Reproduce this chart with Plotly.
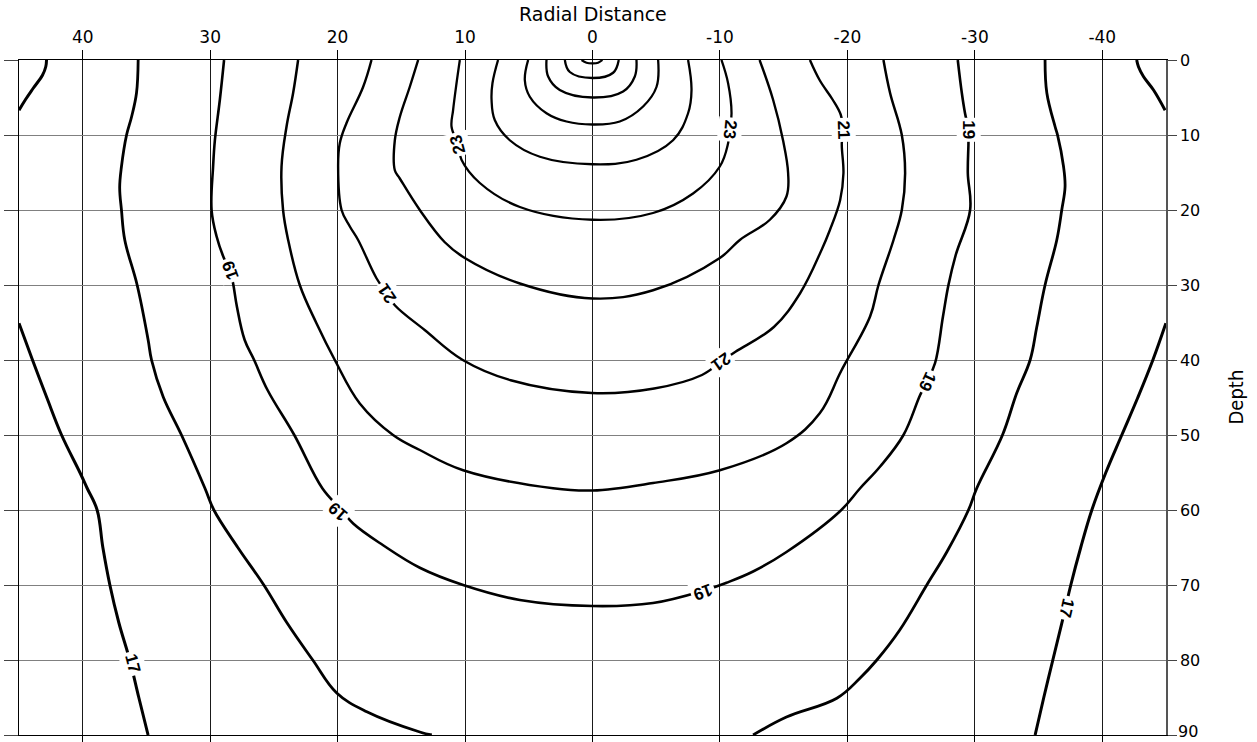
import plotly.graph_objects as go

# ---------------- data (radial distance x, depth d) ----------------
x_ticks = [40, 30, 20, 10, 0, -10, -20, -30, -40]
x_ticktext = ["40", "30", "20", "10", "0", "-10", "-20", "-30", "-40"]
d_ticks = [0, 10, 20, 30, 40, 50, 60, 70, 80, 90]
d_ticktext = ["0", "10", "20", "30", "40", "50", "60", "70", "80", "90"]

c17_tl_x = [42.84, 42.9, 43.15, 43.9, 44.5, 45.0]
c17_tl_d = [0, 0.9, 2.0, 3.8, 5.3, 6.7]
c17_tr_x = [-42.7, -42.84, -43.23, -44.02, -44.93]
c17_tr_d = [0, 0.9, 2.2, 4.0, 6.7]
c17_l_x = [45.0, 43.94, 42.82, 41.66, 40.22, 39.65, 38.87, 38.42, 37.87, 37.17, 36.31, 35.6, 34.87]
c17_l_d = [35.1, 40, 45, 50, 55, 57.1, 60, 65, 70, 75, 80, 85, 90]
c17_r_x = [-44.99, -43.97, -42.79, -41.53, -40.28, -39.18, -38.31, -37.53, -36.98, -36.12, -35.41, -34.73]
c17_r_d = [35.1, 40, 45, 50, 55, 60, 65, 70, 74, 80, 85, 90]

c18_l_x = [35.65, 35.78, 36.17, 36.56, 36.96, 37.1, 36.96, 36.7, 35.73, 34.87, 34.6, 33.69,
           32.25, 30.41, 29.71, 27.83, 25.79, 23.99, 21.95, 20.07, 17.71, 13.55, 12.61]
c18_l_d = [0, 4.4, 7.6, 10, 14.2, 17, 20, 24, 30, 37.3, 40, 44.9,
           50, 57.1, 60, 65, 70, 75, 80, 84.4, 86.9, 89.6, 90]
c18_r_x = [-35.51, -35.65, -36.3, -36.49, -36.96, -37.08, -36.82, -36.43, -35.51, -34.86, -34.34,
           -33.29, -32.17, -30.15, -29.5, -27.8, -26.23, -24.11, -22.31, -21.0, -19.17, -15.22, -12.6]
c18_r_d = [0, 4.4, 8.9, 10, 14.2, 16.9, 20, 24, 30, 35.6, 40,
           44.4, 50, 57.1, 60, 65.6, 70, 76, 80, 82.4, 85.1, 87.6, 90]

c19_x = [28.91, 29.24, 29.63, 29.77, 29.89, 29.5, 28.9, 28.45, 28.2, 27.9, 27.3, 26.55, 25.5,
         23.4, 21.2, 19.69, 18.78, 16.43, 13.55, 10.15, 5.7, 0, -4.75, -8.81, -10.51, -12.6,
         -15.22, -19.4, -21.0, -22.57, -24.4, -25.7, -26.23, -26.88, -27.5, -27.93, -28.5,
         -29.63, -29.45, -29.5, -29.5, -29.23, -28.98, -28.66]
c19_d = [0, 5.3, 10.7, 14.2, 20, 23.5, 26.5, 28, 29.8, 32.9, 37.3, 40, 44,
         50, 57.1, 60, 61.8, 64.7, 67.7, 70, 72, 72.8, 72.4, 70.7, 69.7, 68.2,
         65.6, 60.2, 57.1, 54.2, 50, 44.7, 42.9, 40.4, 34.2, 30, 26,
         20, 15.1, 11.1, 9.3, 7.1, 4.4, 0]

c20_x = [23.1, 23.49, 24.01, 24.4, 24.28, 23.88, 22.97, 21.66, 20.22, 18.26, 15.65, 13.55,
         10.15, 3.09, 0, -4.75, -9.99, -15.22, -17.83, -19.5, -21.78, -22.44, -23.62,
         -24.27, -24.53, -24.27, -23.35, -22.83]
c20_d = [0, 4.4, 8.9, 14.2, 20, 24, 30, 35.1, 40, 45.8, 50, 52,
         54.7, 57.1, 57.4, 56.4, 54.7, 51.1, 47.1, 41.5, 34.2, 30, 24,
         20, 15.1, 10, 4.4, 0]

c21_x = [17.34, 18.0, 19.3, 19.83, 19.96, 19.69, 19.04, 18.39, 16.95, 16.14, 15.51, 13.17, 10.18,
         6.42, 0.04, -4.84, -8.59, -10.1, -11.22, -14.23, -16.29, -17.98, -18.62, -19.43, -19.69,
         -19.56, -19.68, -19.48, -18.85, -17.83, -17.06]
c21_d = [0, 3.6, 8.4, 11.1, 14.2, 20, 22.2, 24, 29.1, 31.1, 32.7, 36, 40,
         42.7, 44.4, 43.8, 42, 40.2, 38.9, 35.6, 31.1, 25.3, 22.7, 18.7, 15.1,
         11.1, 9.3, 7.3, 5.3, 2.7, 0]

c22_x = [13.68, 14.34, 15.12, 15.51, 15.51, 15.12, 13.55, 11.59, 10.02, 5.7, 0, -4.75, -9.99,
         -11.56, -13.92, -15.22, -15.35, -14.95, -14.17, -13.11]
c22_d = [0, 3.6, 7.6, 10.7, 14.7, 15.8, 20, 24.3, 26.4, 29.8, 31.8, 30.7, 26.4,
         24, 21.3, 18.2, 15.1, 10.7, 5.3, 0]

c23_x = [10.41, 10.67, 10.94, 11.06, 10.55, 10.28, 8.84, 5.7, 0, -4.75, -7.89, -9.99, -10.64,
         -10.77, -10.91, -10.64, -10.12]
c23_d = [0, 3.1, 6.7, 8.9, 11.3, 13.3, 16.4, 19.6, 21.3, 20.4, 17.8, 14.2, 11.1,
         9.3, 7.1, 3.1, 0]

c24_x = [7.41, 7.85, 7.92, 7.67, 6.49, 4.13, 0, -3.45, -6.32, -7.5, -7.77, -7.5]
c24_d = [0, 3.1, 5.3, 8.0, 10.7, 12.9, 13.9, 13.3, 10.7, 7.1, 4.0, 0]
c25_x = [5.05, 5.31, 4.92, 3.61, 2.04, 0, -2.14, -3.97, -5.02, -5.15]
c25_d = [0, 2.7, 4.9, 7.1, 8.2, 8.6, 8.2, 6.2, 3.6, 0]
c26_x = [3.61, 3.48, 2.57, 0, -2.4, -3.32, -3.45]
c26_d = [0, 2.2, 4.0, 5.0, 4.2, 2.2, 0]
c27_x = [2.17, 1.78, 0, -1.62, -2.06]
c27_d = [0, 1.6, 2.4, 1.7, 0]
c28_x = [0.86, 0.47, 0, -0.44, -0.78]
c28_d = [0, 0.36, 0.44, 0.36, 0]

label_text = ["23", "23", "21", "19", "19", "21", "21", "19", "19", "19", "17", "17"]
label_x = [10.55, -10.77, -19.68, -29.5, 28.45, 16.14, -10.1, -26.23, 19.95, -8.64, 36.05, -37.21]
label_d = [11.3, 9.3, 9.3, 9.3, 28.0, 31.1, 40.2, 42.9, 60.2, 70.9, 80.4, 73.1]
label_angle = [-105, 96, 88, 90, -110, -124, 145, 115, -139, 160, 75, 103]

# ---------------- figure ----------------
lines = [
    (c17_tl_x, c17_tl_d, 3.0), (c17_tr_x, c17_tr_d, 3.0),
    (c17_l_x, c17_l_d, 3.0), (c17_r_x, c17_r_d, 3.0),
    (c18_l_x, c18_l_d, 2.8), (c18_r_x, c18_r_d, 2.8),
    (c19_x, c19_d, 2.6), (c20_x, c20_d, 2.5), (c21_x, c21_d, 2.4),
    (c22_x, c22_d, 2.4), (c23_x, c23_d, 2.3), (c24_x, c24_d, 2.3),
    (c25_x, c25_d, 2.3), (c26_x, c26_d, 2.3), (c27_x, c27_d, 2.3),
    (c28_x, c28_d, 2.2),
]

fig = go.Figure()
for xs, ds, w in lines:
    fig.add_trace(go.Scatter(x=xs, y=ds, mode="lines",
                             line=dict(color="black", width=w, shape="spline", smoothing=1.1),
                             hoverinfo="skip", showlegend=False))
# empty trace so that the mirrored (tick-only) axes form a drawn subplot
fig.add_trace(go.Scatter(x=[], y=[], xaxis="x2", yaxis="y2", mode="lines",
                         hoverinfo="skip", showlegend=False))

for t, lx, ld, a in zip(label_text, label_x, label_d, label_angle):
    fig.add_annotation(x=lx, y=ld, xref="x", yref="y", text="<b>" + t + "</b>", showarrow=False,
                       textangle=a, bgcolor="white", borderpad=2,
                       font=dict(family="Liberation Sans, Arial", size=17, color="black"))

x_tick_font = dict(family="DejaVu Sans, Liberation Sans", size=17, color="black")
y_tick_font = dict(family="DejaVu Sans, Liberation Sans", size=16, color="black")

# the last depth label sits on the figure's bottom edge: draw it as an annotation
# lifted just enough to stay inside the page
y_ticktext_axis = d_ticktext[:-1] + [""]

fig.update_layout(
    width=1257, height=742,
    margin=dict(l=19, r=91, t=60, b=7, autoexpand=False),
    paper_bgcolor="white", plot_bgcolor="white",
    showlegend=False,
    xaxis=dict(range=[45, -45], side="top", tickmode="array", tickvals=x_ticks,
               ticktext=x_ticktext, tickfont=x_tick_font, ticks="outside", ticklen=9,
               tickcolor="black", showgrid=True, gridcolor="#1a1a1a", gridwidth=1,
               zeroline=False, showline=True, linecolor="black", linewidth=1,
               automargin=False),
    xaxis2=dict(range=[45, -45], overlaying="x", side="bottom", anchor="y2",
                tickmode="array", tickvals=x_ticks, showticklabels=False,
                ticks="outside", ticklen=9, tickcolor="black", showgrid=False,
                zeroline=False, showline=True, linecolor="black", linewidth=1,
                automargin=False),
    yaxis=dict(range=[90, 0], side="right", tickmode="array", tickvals=d_ticks,
               ticktext=y_ticktext_axis, tickfont=y_tick_font, ticks="outside", ticklen=9,
               tickcolor="#444", showgrid=True, gridcolor="#808080", gridwidth=1,
               zeroline=False, showline=True, linecolor="#555", linewidth=1.5,
               automargin=False),
    yaxis2=dict(range=[90, 0], overlaying="y", side="left", anchor="x2",
                tickmode="array", tickvals=d_ticks, showticklabels=False,
                ticks="outside", ticklen=14, tickcolor="#444", showgrid=False,
                zeroline=False, showline=True, linecolor="black", linewidth=1,
                automargin=False),
)

fig.add_annotation(text=d_ticktext[-1], xref="paper", yref="paper",
                   x=(1177 - 19) / 1147, y=-7 / 675, showarrow=False,
                   xanchor="left", yanchor="bottom", borderpad=0,
                   font=y_tick_font)
fig.add_annotation(text="Radial Distance", xref="paper", yref="paper",
                   x=(592.7 - 19) / 1147, y=(735 - 14) / 675, showarrow=False,
                   xanchor="center", yanchor="middle",
                   font=dict(family="DejaVu Sans, Liberation Sans", size=19, color="black"))
fig.add_annotation(text="Depth", xref="paper", yref="paper",
                   x=(1235 - 19) / 1147, y=0.5, showarrow=False, textangle=-90,
                   xanchor="center", yanchor="middle",
                   font=dict(family="Liberation Sans Narrow, DejaVu Sans Condensed, Liberation Sans",
                             size=20, color="black"))

fig.write_html("out.html", config={"displayModeBar": False},
               post_script="document.body.style.margin='0';document.body.style.overflow='hidden';")
